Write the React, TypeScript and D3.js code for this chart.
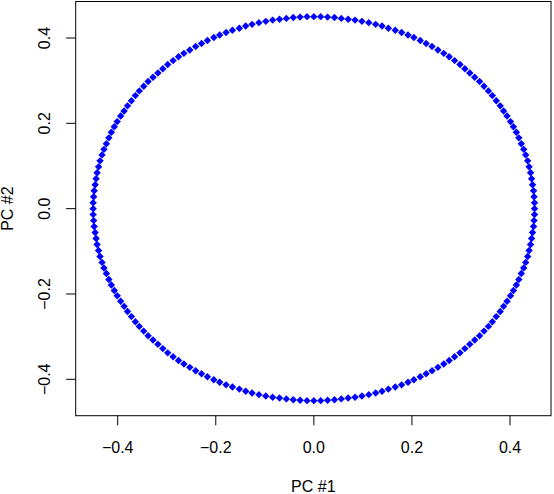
import React from "react";
import * as d3 from "d3";

const pc1: number[] = [
  0.450,0.450,0.449,0.448,0.446,0.444,0.442,0.439,0.436,0.432,0.428,0.423,0.418,0.413,0.407,0.401,0.394,0.387,0.380,0.372,0.364,0.356,0.347,0.338,0.328,0.318,0.308,0.298,0.287,0.276,0.265,0.253,0.241,0.229,0.217,0.204,0.192,0.179,0.166,0.152,0.139,0.126,0.112,0.098,0.084,0.070,0.056,0.042,0.028,0.014,0.000,
  -0.014,-0.028,-0.042,-0.056,-0.070,-0.084,-0.098,-0.112,-0.126,-0.139,-0.152,-0.166,-0.179,-0.192,-0.204,-0.217,-0.229,-0.241,-0.253,-0.265,-0.276,-0.287,-0.298,-0.308,-0.318,-0.328,-0.338,-0.347,-0.356,-0.364,-0.372,-0.380,-0.387,-0.394,-0.401,-0.407,-0.413,-0.418,-0.423,-0.428,-0.432,-0.436,-0.439,-0.442,-0.444,-0.446,-0.448,-0.449,-0.450,-0.450,
  -0.450,-0.449,-0.448,-0.446,-0.444,-0.442,-0.439,-0.436,-0.432,-0.428,-0.423,-0.418,-0.413,-0.407,-0.401,-0.394,-0.387,-0.380,-0.372,-0.364,-0.356,-0.347,-0.338,-0.328,-0.318,-0.308,-0.298,-0.287,-0.276,-0.265,-0.253,-0.241,-0.229,-0.217,-0.204,-0.192,-0.179,-0.166,-0.152,-0.139,-0.126,-0.112,-0.098,-0.084,-0.070,-0.056,-0.042,-0.028,-0.014,0.000,
  0.014,0.028,0.042,0.056,0.070,0.084,0.098,0.112,0.126,0.139,0.152,0.166,0.179,0.192,0.204,0.217,0.229,0.241,0.253,0.265,0.276,0.287,0.298,0.308,0.318,0.328,0.338,0.347,0.356,0.364,0.372,0.380,0.387,0.394,0.401,0.407,0.413,0.418,0.423,0.428,0.432,0.436,0.439,0.442,0.444,0.446,0.448,0.449,0.450,
];

const pc2: number[] = [
  0.000,0.014,0.028,0.042,0.056,0.070,0.084,0.098,0.112,0.126,0.139,0.152,0.166,0.179,0.192,0.204,0.217,0.229,0.241,0.253,0.265,0.276,0.287,0.298,0.308,0.318,0.328,0.338,0.347,0.356,0.364,0.372,0.380,0.387,0.394,0.401,0.407,0.413,0.418,0.423,0.428,0.432,0.436,0.439,0.442,0.444,0.446,0.448,0.449,0.450,0.450,
  0.450,0.449,0.448,0.446,0.444,0.442,0.439,0.436,0.432,0.428,0.423,0.418,0.413,0.407,0.401,0.394,0.387,0.380,0.372,0.364,0.356,0.347,0.338,0.328,0.318,0.308,0.298,0.287,0.276,0.265,0.253,0.241,0.229,0.217,0.204,0.192,0.179,0.166,0.152,0.139,0.126,0.112,0.098,0.084,0.070,0.056,0.042,0.028,0.014,0.000,
  -0.014,-0.028,-0.042,-0.056,-0.070,-0.084,-0.098,-0.112,-0.126,-0.139,-0.152,-0.166,-0.179,-0.192,-0.204,-0.217,-0.229,-0.241,-0.253,-0.265,-0.276,-0.287,-0.298,-0.308,-0.318,-0.328,-0.338,-0.347,-0.356,-0.364,-0.372,-0.380,-0.387,-0.394,-0.401,-0.407,-0.413,-0.418,-0.423,-0.428,-0.432,-0.436,-0.439,-0.442,-0.444,-0.446,-0.448,-0.449,-0.450,-0.450,
  -0.450,-0.449,-0.448,-0.446,-0.444,-0.442,-0.439,-0.436,-0.432,-0.428,-0.423,-0.418,-0.413,-0.407,-0.401,-0.394,-0.387,-0.380,-0.372,-0.364,-0.356,-0.347,-0.338,-0.328,-0.318,-0.308,-0.298,-0.287,-0.276,-0.265,-0.253,-0.241,-0.229,-0.217,-0.204,-0.192,-0.179,-0.166,-0.152,-0.139,-0.126,-0.112,-0.098,-0.084,-0.070,-0.056,-0.042,-0.028,-0.014,
];

const xTicks: number[] = [-0.4, -0.2, 0.0, 0.2, 0.4];
const yTicks: number[] = [-0.4, -0.2, 0.0, 0.2, 0.4];
const xLabel = "PC #1";
const yLabel = "PC #2";

const W = 554;
const H = 494;
const box = { left: 75.7, right: 551, top: 1.5, bottom: 415.7 };
const FONT = "'Liberation Sans', Arial, Helvetica, sans-serif";
const FS = 16;

const fmt = (v: number) => {
  const s = Math.abs(v).toFixed(1);
  return v < 0 ? "\u2212" + s : s;
};

export default function App() {
  const x = d3.scaleLinear().domain([-0.4, 0.4]).range([117.7, 510]);
  const y = d3.scaleLinear().domain([-0.4, 0.4]).range([379.3, 38]);
  const r = 3.7;
  const pts = pc1.map((v, i) => [x(v), y(pc2[i])]);
  const diamond = (cx: number, cy: number) =>
    `M${cx},${cy - r}L${cx + r},${cy}L${cx},${cy + r}L${cx - r},${cy}Z`;
  const tick = 9.6;
  return (
    <svg
      width={W}
      height={H}
      style={{ position: "absolute", left: 0, top: 0, background: "#fff" }}
      fontFamily={FONT}
      fontSize={FS}
    >
      <rect x={0} y={0} width={W} height={H} fill="#fff" />
      {pts.map(([cx, cy], i) => (
        <path key={i} d={diamond(cx, cy)} fill="#0000ff" />
      ))}
      <rect
        x={box.left}
        y={box.top}
        width={box.right - box.left}
        height={box.bottom - box.top}
        fill="none"
        stroke="#000"
        strokeWidth={1}
      />
      {xTicks.map((t) => (
        <g key={"x" + t}>
          <line x1={x(t)} x2={x(t)} y1={box.bottom} y2={box.bottom + tick} stroke="#000" />
          <text x={x(t)} y={453} textAnchor="middle" fill="#000">
            {fmt(t)}
          </text>
        </g>
      ))}
      {yTicks.map((t) => (
        <g key={"y" + t}>
          <line x1={box.left} x2={box.left - tick} y1={y(t)} y2={y(t)} stroke="#000" />
          <text
            transform={`translate(50,${y(t)}) rotate(-90)`}
            textAnchor="middle"
            fill="#000"
          >
            {fmt(t)}
          </text>
        </g>
      ))}
      <text x={(box.left + box.right) / 2} y={492} textAnchor="middle" fill="#000">
        {xLabel}
      </text>
      <text
        transform={`translate(12.5,${(box.top + box.bottom) / 2}) rotate(-90)`}
        textAnchor="middle"
        fill="#000"
      >
        {yLabel}
      </text>
    </svg>
  );
}
